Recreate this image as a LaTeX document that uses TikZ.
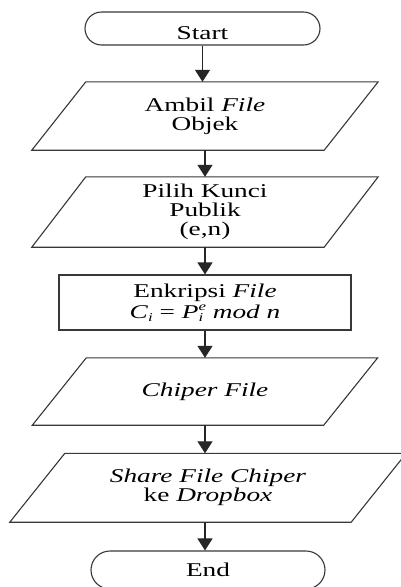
\documentclass[tikz,border=0pt]{standalone}
\usepackage{fontspec}
\setmainfont{Liberation Serif}
\usetikzlibrary{arrows.meta}
\newcommand\sx[1]{\scalebox{1.4}[1]{#1}}
\newcommand\scr[1]{{\fontsize{12}{12}\selectfont\textit{#1}}}
\tikzset{
  line/.style={draw=black!78, line width=1.1pt},
  txt/.style={font=\fontsize{19.5}{19}\selectfont, align=center, text=black},
  term/.style={txt, line, rectangle, inner sep=0pt},
  pbox/.style={txt, rectangle, inner sep=0pt},
  proc/.style={txt, line, rectangle, inner sep=0pt},
  arr/.style={draw=black!85, line width=1.3pt, -{Triangle[width=15pt,length=12pt]}},
}
\newcommand\paradraw[2]{%
  \draw[line] ([xshift=#2]#1.north west) -- ([xshift=#2]#1.north east) --
    ([xshift=-#2]#1.south east) -- ([xshift=-#2]#1.south west) -- cycle;}
\begin{document}
\begin{tikzpicture}[x=1pt,y=-1pt]
\useasboundingbox[fill=white] (0,0) rectangle (401,587);
\node[term, minimum width=235pt, minimum height=33pt, rounded corners=16.5pt, text height=22pt, text depth=0pt] (start) at (202.5,28.5) {\sx{Start}};
\node[pbox, minimum width=292pt, minimum height=68pt] (p1) at (205,116) {\sx{Ambil \textit{File}}\\\sx{Objek}};
\node[pbox, minimum width=292pt, minimum height=70pt] (p2) at (205,212) {\sx{Pilih Kunci}\\\sx{Publik}\\\sx{(e,n)}};
\node[proc, minimum width=292pt, minimum height=55pt] (enc) at (205,302.5)
  {\sx{Enkripsi \textit{File}}\\[2pt]\sx{\textit{C}\raisebox{-3pt}{\scr{i}} = \textit{P}\rlap{\raisebox{-3pt}{\scr{i}}}\raisebox{8pt}{\scr{e}} \textit{mod n}}};
\node[pbox, minimum width=291pt, minimum height=67pt] (p3) at (205,391.5) {\sx{\textit{Chiper File}}};
\node[pbox, minimum width=341pt, minimum height=68.5pt] (p4) at (208,487.75) {\sx{\textit{Share File Chiper}}\\\sx{ke \textit{Dropbox}}};
\node[term, minimum width=234pt, minimum height=38pt, rounded corners=19pt] (end) at (208,570) {\sx{End}};
\paradraw{p1}{27pt}
\paradraw{p2}{27pt}
\paradraw{p3}{27pt}
\paradraw{p4}{27.5pt}
\draw[arr] (start.south) -- (start.south |- p1.north);
\draw[arr] (p1.south) -- (p1.south |- p2.north);
\draw[arr] (p2.south) -- (p2.south |- enc.north);
\draw[arr] (enc.south) -- (enc.south |- p3.north);
\draw[arr] (p3.south) -- (p3.south |- p4.north);
\draw[arr] ([xshift=-3pt]p4.south) -- ([xshift=-3pt]p4.south |- end.north);
\end{tikzpicture}
\end{document}
